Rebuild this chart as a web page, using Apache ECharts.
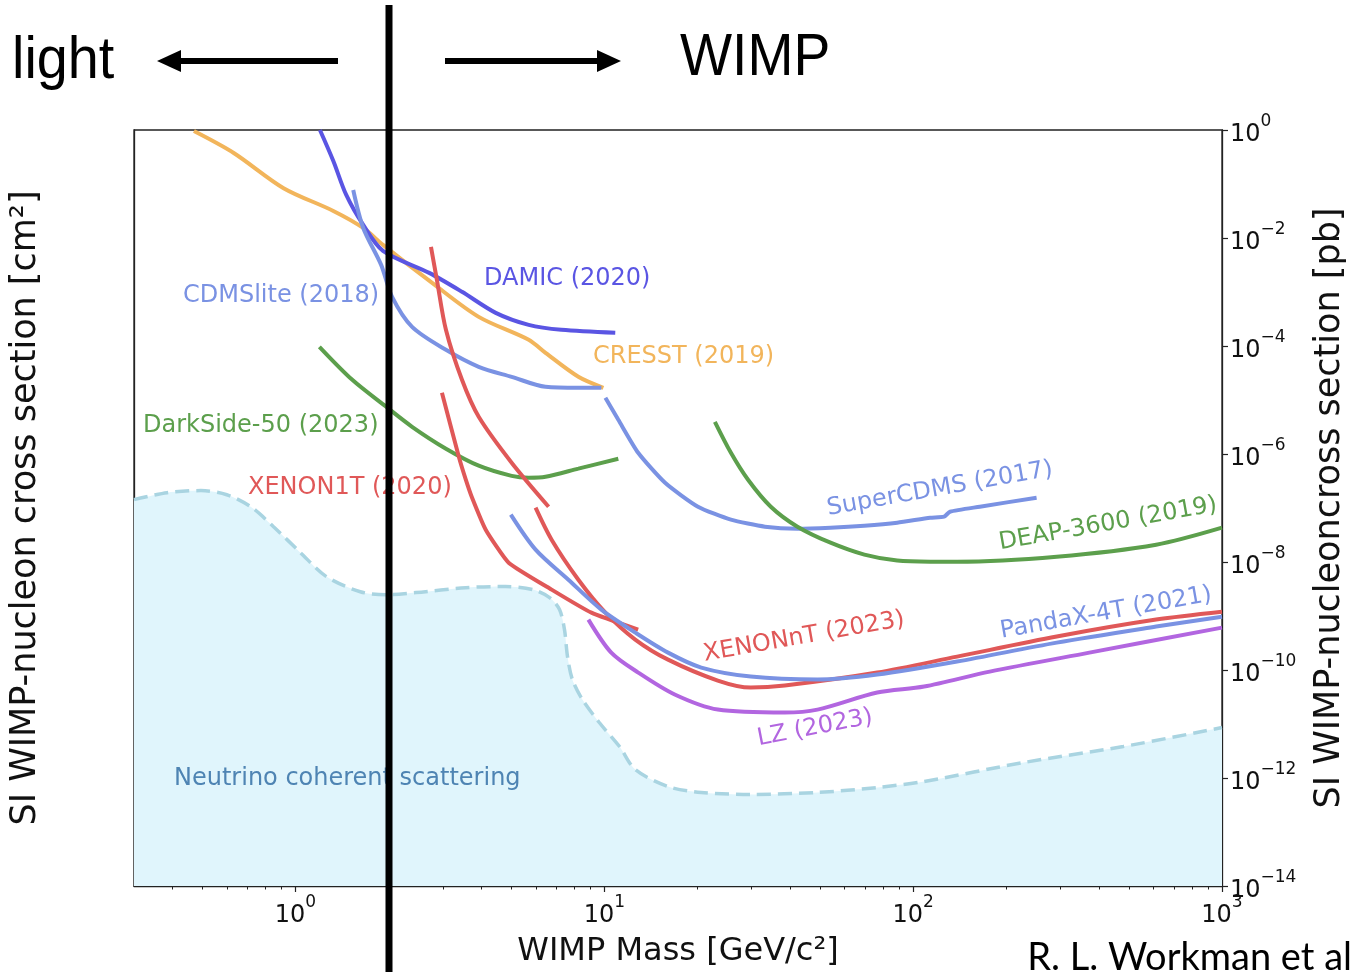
<!DOCTYPE html>
<html><head><meta charset="utf-8">
<script src="https://cdn.jsdelivr.net/npm/echarts@6/dist/echarts.min.js"></script>
<style>html,body{margin:0;padding:0;background:#fff}#c{width:1355px;height:977px}</style>
</head><body><div id="c"></div>
<script>
// ---- axis ranges & ticks ----
const X_RANGE = [0.3, 1000];
const Y_RANGE_CM2 = [1e-50, 1e-37];
const Y_RANGE_PB = [1e-14, 1];
const X_MAJOR_TICKS = [1, 10, 100, 1000];
const X_MINOR_TICKS = [0.4,0.5,0.6,0.7,0.8,0.9, 2,3,4,5,6,7,8,9, 20,30,40,50,60,70,80,90, 200,300,400,500,600,700,800,900];
const Y_TICKS_CM2 = [1e-50,1e-48,1e-46,1e-44,1e-42,1e-40,1e-38];
const Y_TICKS_PB = [1e-14,1e-12,1e-10,1e-8,1e-6,1e-4,1e-2,1];

// ---- series: [WIMP mass GeV/c^2, cross section cm^2] ----
const NEUTRINO_FLOOR = [[0.3,4.4e-44],[0.384,5.8e-44],[0.494,6.3e-44],[0.599,5.35e-44],[0.716,3.33e-44],[0.849,1.51e-44],[1.038,5.4e-45],[1.259,2.09e-45],[1.621,1.15e-45],[1.966,1.02e-45],[2.455,1.11e-45],[3.56,1.35e-45],[4.79,1.41e-45],[5.86,1.25e-45],[6.65,9.1e-46],[7.16,5.66e-46],[7.43,2.56e-46],[7.60,8.8e-47],[7.88,3.55e-47],[8.49,1.61e-47],[9.63,6.47e-48],[11.2,2.5e-48],[12.59,1.01e-48],[16.08,5.14e-49],[20.6,4.06e-49],[29.8,3.75e-49],[49.0,4.06e-49],[76.5,4.94e-49],[108.5,6.27e-49],[228,1.33e-48],[479,2.5e-48],[1000,5.3e-48]];
const CRESST_2019 = [[0.469,9.6e-38],[0.631,4.03e-38],[0.915,1.0e-38],[1.326,4.06e-39],[1.657,2.07e-39],[1.92,1.06e-39],[2.77,2.35e-40],[3.92,6.12e-41],[5.69,2.47e-41],[6.45,1.47e-41],[8.24,5.7e-42],[9.93,3.69e-42]];
const DAMIC_2020 = [[1.2,1e-37],[1.326,2.93e-38],[1.46,7.64e-39],[1.657,2.33e-39],[1.92,8.34e-40],[2.71,3.49e-40],[3.46,1.65e-40],[4.45,7.17e-41],[5.69,4.46e-41],[7.26,3.66e-41],[10.85,3.25e-41]];
const CDMSLITE_2018 = [[1.538,9.3e-39],[1.657,2.07e-39],[1.894,4.79e-40],[2.055,1.35e-40],[2.385,4.12e-41],[3.07,1.66e-41],[3.92,8.47e-42],[5.01,5.7e-42],[6.45,3.84e-42],[8.24,3.69e-42],[9.78,3.69e-42]];
const SUPERCDMS_2017 = [[10.08,2.48e-42],[11.1,1.04e-42],[12.87,2.82e-43],[15.73,8.6e-44],[20.1,3.33e-44],[25.7,1.99e-44],[33.1,1.51e-44],[42.2,1.39e-44],[54.0,1.45e-44],[69.5,1.57e-44],[88.8,1.77e-44],[113.5,2.15e-44],[125.9,2.24e-44],[131.6,2.73e-44],[164.4,3.33e-44],[251,4.75e-44]];
const DARKSIDE50_2023 = [[1.195,1.87e-41],[1.527,5.06e-42],[1.966,1.74e-42],[2.385,7.88e-43],[3.07,3.31e-43],[3.92,1.69e-43],[5.01,1.13e-43],[5.69,1.05e-43],[6.45,1.09e-43],[8.24,1.5e-43],[11.1,2.22e-43]];
const DEAP3600_2019 = [[22.8,9.6e-43],[25.7,2.82e-43],[29.2,9.7e-44],[34.6,3.33e-44],[42.2,1.51e-44],[54.0,8.0e-45],[69.5,4.99e-45],[88.8,3.94e-45],[113.5,3.78e-45],[138.7,3.78e-45],[291.6,4.6e-45],[612,7.39e-45],[1000,1.45e-44]];
const XENON1T_2020_A = [[2.746,9.77e-40],[2.87,2.65e-40],[3.07,3.66e-41],[3.46,5.06e-42],[3.92,1.17e-42],[5.01,1.9e-43],[6.6,3.33e-44]];
const XENON1T_2020_B = [[2.98,3.03e-42],[3.38,2.4e-43],[3.56,9.7e-44],[3.72,4.94e-44],[4.13,1.34e-44],[4.9,3.63e-45],[6.75,1.25e-45],[9.08,5.02e-46],[12.87,2.56e-46]];
const XENONNT_2023 = [[5.99,3.2e-44],[6.75,9.0e-45],[8.24,1.85e-45],[10.08,5.02e-46],[12.59,1.73e-46],[16.08,7.8e-47],[23.3,3.41e-47],[29.8,2.58e-47],[38.4,2.8e-47],[76.5,4.68e-47],[138.7,8.8e-47],[291.6,1.95e-46],[612,3.81e-46],[1000,5.2e-46]];
const PANDAX4T_2021 = [[4.98,2.43e-44],[5.99,6.08e-45],[7.65,1.85e-45],[9.78,5.66e-46],[12.59,2.28e-46],[16.08,1.03e-46],[20.6,5.7e-47],[29.8,3.99e-47],[49.0,3.55e-47],[76.5,4.32e-47],[138.7,7.23e-47],[291.6,1.53e-46],[612,2.89e-46],[1000,4.28e-46]];
const LZ_2023 = [[8.88,3.81e-46],[10.53,1.03e-46],[12.87,4.68e-47],[16.9,1.96e-47],[23.3,1.08e-47],[38.4,9.6e-48],[49.0,1.08e-47],[76.5,2.12e-47],[108.5,2.69e-47],[177,4.86e-47],[372,1.03e-46],[1000,2.77e-46]];

const C_BLUE = '#7a92e3', C_DAMIC = '#5a55e3', C_ORANGE = '#f2b55b', C_GREEN = '#5c9f4c', C_RED = '#e05858', C_PURPLE = '#b266e0';
const FONT = '"DejaVu Sans", sans-serif';
const HEAD_FONT = '60px "Liberation Sans", Arial, sans-serif';

function pow10Label(v) {
  const l = Math.log10(v), e = Math.round(l);
  if (Math.abs(l - e) > 1e-6) return '';
  const es = e < 0 ? '\u2212' + (-e) : String(e);
  return '{b|10}{s|' + es + '}';
}
const RICH = {
  b: {fontSize: 24, fontFamily: FONT, color: '#111', lineHeight: 34, verticalAlign: 'bottom'},
  s: {fontSize: 17, fontFamily: FONT, color: '#111', lineHeight: 34, verticalAlign: 'top'}
};

function line(name, data, color, smooth) {
  return {name, type: 'line', data, showSymbol: false, symbol: 'none', smooth: smooth == null ? 0.3 : smooth,
    lineStyle: {color, width: 4}, itemStyle: {color}, z: 3, silent: true};
}
function lbl(text, x, y, color, rotDeg, align) {
  return {type: 'text', x, y, rotation: (rotDeg || 0) * Math.PI / 180, z: 60, silent: true,
    style: {text, fill: color, font: '24px ' + FONT, align: align || 'left', verticalAlign: 'middle'}};
}

const chart = echarts.init(document.getElementById('c'), null, {renderer: 'canvas'});
chart.setOption({
  animation: false,
  backgroundColor: '#fff',
  grid: {left: 134, right: 129, top: 130, bottom: 91, show: true, borderColor: '#222', borderWidth: 1.3, backgroundColor: 'transparent'},
  xAxis: [{
    type: 'log', min: X_RANGE[0], max: X_RANGE[1], position: 'bottom',
    name: 'WIMP Mass [GeV/c\u00b2]', nameLocation: 'middle', nameGap: 50,
    nameTextStyle: {fontSize: 32, fontFamily: FONT, color: '#111'},
    axisLine: {show: true, lineStyle: {color: '#222', width: 1.3}},
    axisTick: {show: true, inside: false, length: 6, customValues: X_MAJOR_TICKS, lineStyle: {color: '#222', width: 1.2}},
    axisLabel: {customValues: X_MAJOR_TICKS, margin: 8, formatter: pow10Label, rich: RICH},
    splitLine: {show: false}
  }, {
    type: 'log', min: X_RANGE[0], max: X_RANGE[1], position: 'bottom',
    axisLine: {show: false},
    axisTick: {show: true, inside: false, length: 3.5, customValues: X_MINOR_TICKS, lineStyle: {color: '#222', width: 1}},
    axisLabel: {show: false}, splitLine: {show: false}
  }],
  yAxis: [{
    type: 'log', min: Y_RANGE_CM2[0], max: Y_RANGE_CM2[1], position: 'left',
    name: 'SI WIMP-nucleon cross section [cm\u00b2]', nameLocation: 'middle', nameRotate: 90, nameGap: 91,
    nameTextStyle: {fontSize: 35, fontFamily: FONT, color: '#111'},
    axisLine: {show: true, lineStyle: {color: '#222', width: 1.3}},
    axisTick: {show: true, length: 6, customValues: Y_TICKS_CM2, lineStyle: {color: '#222', width: 1.2}},
    axisLabel: {customValues: Y_TICKS_CM2, margin: 8, formatter: pow10Label, rich: RICH},
    splitLine: {show: false}
  }, {
    type: 'log', min: Y_RANGE_PB[0], max: Y_RANGE_PB[1], position: 'right',
    name: 'SI WIMP-nucleoncross section [pb]', nameLocation: 'middle', nameRotate: 90, nameGap: 90,
    nameTextStyle: {fontSize: 35, fontFamily: FONT, color: '#111'},
    axisLine: {show: true, lineStyle: {color: '#222', width: 1.3}},
    axisTick: {show: true, length: 6, customValues: Y_TICKS_PB, lineStyle: {color: '#222', width: 1.2}},
    axisLabel: {customValues: Y_TICKS_PB, margin: 8, formatter: pow10Label, rich: RICH},
    splitLine: {show: false}
  }],
  series: [
    {name: 'Neutrino coherent scattering', type: 'line', data: NEUTRINO_FLOOR, showSymbol: false, symbol: 'none', smooth: 0.3, z: 1, silent: true,
     lineStyle: {color: '#a9d4e1', width: 3.5, type: [14, 7]},
     areaStyle: {color: '#e0f5fc', opacity: 1, origin: Y_RANGE_CM2[0]}},
    line('CRESST (2019)', CRESST_2019, C_ORANGE),
    line('DAMIC (2020)', DAMIC_2020, C_DAMIC),
    line('CDMSlite (2018)', CDMSLITE_2018, C_BLUE),
    line('SuperCDMS (2017)', SUPERCDMS_2017, C_BLUE, 0.2),
    line('DarkSide-50 (2023)', DARKSIDE50_2023, C_GREEN),
    line('DEAP-3600 (2019)', DEAP3600_2019, C_GREEN),
    line('XENON1T (2020)', XENON1T_2020_A, C_RED),
    line('XENON1T (2020) S2', XENON1T_2020_B, C_RED, 0.15),
    line('XENONnT (2023)', XENONNT_2023, C_RED),
    line('PandaX-4T (2021)', PANDAX4T_2021, C_BLUE),
    line('LZ (2023)', LZ_2023, C_PURPLE)
  ],
  graphic: [
    lbl('CDMSlite (2018)', 183, 296, C_BLUE),
    lbl('DAMIC (2020)', 484, 279, C_DAMIC),
    lbl('CRESST (2019)', 593, 357, C_ORANGE),
    lbl('DarkSide-50 (2023)', 143, 426, C_GREEN),
    lbl('XENON1T (2020)', 248, 488, C_RED),
    lbl('Neutrino coherent scattering', 174, 779, '#4e84b3'),
    lbl('SuperCDMS (2017)', 940, 489, C_BLUE, 10, 'center'),
    lbl('DEAP-3600 (2019)', 1108, 524, C_GREEN, 10, 'center'),
    lbl('PandaX-4T (2021)', 1106, 613, C_BLUE, 10, 'center'),
    lbl('XENONnT (2023)', 804, 637, C_RED, 10, 'center'),
    lbl('LZ (2023)', 815, 728, C_PURPLE, 11, 'center'),
    {type: 'line', z: 100, silent: true, shape: {x1: 389, y1: 5, x2: 389, y2: 972}, style: {stroke: '#000', lineWidth: 7}},
    {type: 'line', z: 100, silent: true, shape: {x1: 338, y1: 61, x2: 172, y2: 61}, style: {stroke: '#000', lineWidth: 6}},
    {type: 'polygon', z: 100, silent: true, shape: {points: [[157, 61], [181, 50], [181, 72]]}, style: {fill: '#000'}},
    {type: 'line', z: 100, silent: true, shape: {x1: 445, y1: 61, x2: 606, y2: 61}, style: {stroke: '#000', lineWidth: 6}},
    {type: 'polygon', z: 100, silent: true, shape: {points: [[621, 61], [597, 50], [597, 72]]}, style: {fill: '#000'}},
    {type: 'text', x: 12, y: 61, scaleX: 0.93, z: 100, silent: true, style: {text: 'light', fill: '#000', font: HEAD_FONT, align: 'left', verticalAlign: 'middle'}},
    {type: 'text', x: 680, y: 58, scaleX: 0.92, z: 100, silent: true, style: {text: 'WIMP', fill: '#000', font: HEAD_FONT, align: 'left', verticalAlign: 'middle'}},
    {type: 'text', x: 1352, y: 958, z: 100, silent: true, style: {text: 'R. L. Workman et al', fill: '#000', font: '38px Lato, "Open Sans", sans-serif', align: 'right', verticalAlign: 'middle'}}
  ]
});
</script></body></html>
